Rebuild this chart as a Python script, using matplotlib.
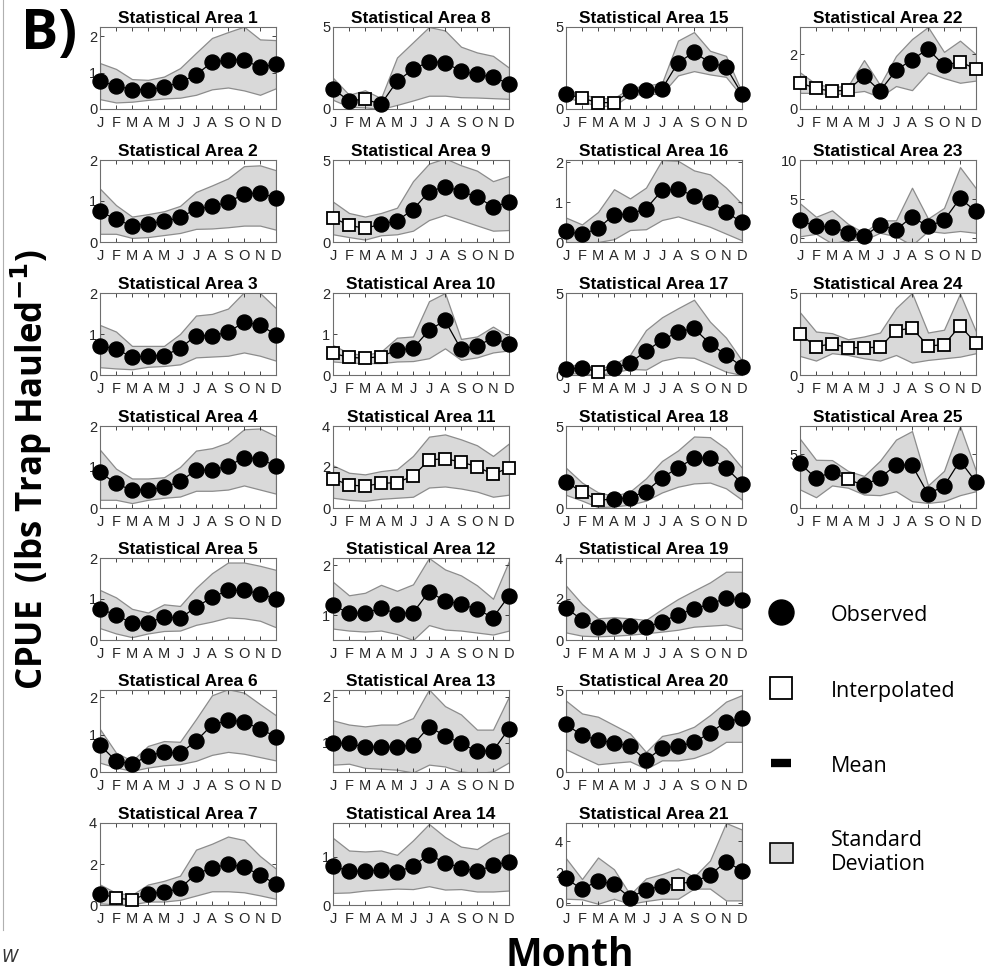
import numpy as np
import matplotlib
matplotlib.use("Agg")
import matplotlib.pyplot as plt
from matplotlib.lines import Line2D
from matplotlib.patches import Patch

months = ['J', 'F', 'M', 'A', 'M', 'J', 'J', 'A', 'S', 'O', 'N', 'D']

# mean CPUE, upper (mean+sd) and lower (mean-sd) per statistical area, Jan..Dec
m1 = [0.76, 0.64, 0.53, 0.53, 0.60, 0.73, 0.94, 1.28, 1.35, 1.35, 1.14, 1.23]
hi1 = [1.26, 1.10, 0.82, 0.80, 0.89, 1.12, 1.54, 1.95, 2.11, 2.26, 1.91, 1.89]
lo1 = [0.27, 0.18, 0.20, 0.25, 0.29, 0.31, 0.39, 0.54, 0.59, 0.51, 0.39, 0.57]

m2 = [0.75, 0.55, 0.40, 0.45, 0.50, 0.60, 0.80, 0.87, 0.97, 1.17, 1.20, 1.07]
hi2 = [1.30, 0.90, 0.62, 0.68, 0.75, 0.88, 1.22, 1.38, 1.55, 1.85, 1.87, 1.75]
lo2 = [0.20, 0.20, 0.10, 0.12, 0.17, 0.22, 0.32, 0.33, 0.36, 0.40, 0.40, 0.30]

m3 = [0.71, 0.64, 0.43, 0.47, 0.47, 0.65, 0.96, 0.96, 1.04, 1.29, 1.22, 0.98]
hi3 = [1.22, 1.06, 0.71, 0.71, 0.71, 1.00, 1.45, 1.49, 1.62, 2.02, 2.00, 1.63]
lo3 = [0.19, 0.16, 0.14, 0.20, 0.22, 0.26, 0.43, 0.45, 0.47, 0.55, 0.47, 0.35]

m4 = [0.87, 0.60, 0.43, 0.45, 0.50, 0.65, 0.92, 0.93, 1.02, 1.23, 1.20, 1.02]
hi4 = [1.42, 0.96, 0.72, 0.72, 0.75, 1.00, 1.40, 1.46, 1.60, 1.92, 1.94, 1.75]
lo4 = [0.20, 0.20, 0.12, 0.20, 0.25, 0.28, 0.42, 0.42, 0.45, 0.55, 0.45, 0.35]

m5 = [0.76, 0.61, 0.41, 0.41, 0.57, 0.53, 0.80, 1.04, 1.21, 1.21, 1.13, 1.00]
hi5 = [1.22, 1.04, 0.76, 0.67, 0.87, 0.83, 1.27, 1.63, 1.89, 1.89, 1.81, 1.71]
lo5 = [0.29, 0.16, 0.07, 0.16, 0.22, 0.23, 0.37, 0.45, 0.55, 0.53, 0.47, 0.31]

m6 = [0.72, 0.30, 0.21, 0.43, 0.54, 0.50, 0.83, 1.26, 1.39, 1.35, 1.15, 0.95]
hi6 = [1.15, 0.52, 0.30, 0.70, 0.83, 0.81, 1.42, 2.06, 2.22, 2.13, 1.82, 1.52]
lo6 = [0.25, 0.12, 0.03, 0.12, 0.18, 0.21, 0.30, 0.46, 0.54, 0.49, 0.40, 0.31]

m7 = [0.56, 0.34, 0.25, 0.56, 0.62, 0.81, 1.52, 1.80, 1.99, 1.85, 1.47, 1.01]
hi7 = [1.00, 0.59, 0.50, 1.00, 1.18, 1.43, 2.70, 2.99, 3.34, 3.17, 2.39, 1.77]
lo7 = [0.08, 0.03, 0.03, 0.17, 0.17, 0.25, 0.46, 0.67, 0.67, 0.62, 0.47, 0.30]

m8 = [1.22, 0.50, 0.60, 0.29, 1.69, 2.42, 2.89, 2.83, 2.31, 2.11, 1.94, 1.55]
hi8 = [1.90, 0.87, 1.14, 0.66, 3.14, 4.07, 5.00, 4.79, 3.80, 3.45, 3.24, 2.52]
lo8 = [0.56, 0.14, 0.10, 0.00, 0.25, 0.52, 0.81, 0.81, 0.72, 0.70, 0.66, 0.62]

m9 = [1.49, 1.01, 0.84, 1.08, 1.29, 1.98, 3.06, 3.38, 3.10, 2.74, 2.16, 2.41]
hi9 = [2.46, 1.77, 1.55, 1.77, 2.09, 3.71, 4.78, 5.10, 4.68, 4.35, 3.71, 4.03]
lo9 = [0.47, 0.30, 0.15, 0.41, 0.47, 0.69, 1.34, 1.66, 1.34, 1.01, 0.69, 0.73]

m10 = [0.53, 0.43, 0.41, 0.45, 0.61, 0.65, 1.09, 1.33, 0.63, 0.71, 0.90, 0.76]
hi10 = [0.73, 0.53, 0.49, 0.57, 0.91, 0.94, 1.80, 2.00, 0.88, 0.94, 1.18, 0.94]
lo10 = [0.33, 0.30, 0.29, 0.29, 0.33, 0.34, 0.41, 0.65, 0.37, 0.43, 0.55, 0.60]

m11 = [1.43, 1.12, 1.07, 1.20, 1.24, 1.56, 2.34, 2.41, 2.24, 2.02, 1.64, 1.97]
hi11 = [2.08, 1.72, 1.64, 1.80, 1.89, 2.54, 3.48, 3.59, 3.35, 3.06, 2.54, 3.15]
lo11 = [0.50, 0.40, 0.35, 0.45, 0.50, 0.55, 1.00, 1.05, 0.95, 0.80, 0.55, 0.65]

m12 = [1.20, 1.04, 1.04, 1.14, 1.03, 1.05, 1.47, 1.29, 1.22, 1.12, 0.95, 1.39]
hi12 = [1.67, 1.40, 1.45, 1.61, 1.49, 1.62, 2.15, 1.92, 1.80, 1.60, 1.33, 2.09]
lo12 = [0.73, 0.69, 0.67, 0.69, 0.62, 0.50, 0.80, 0.71, 0.69, 0.65, 0.61, 0.69]

m13 = [1.00, 0.99, 0.91, 0.91, 0.91, 0.96, 1.35, 1.16, 0.99, 0.82, 0.83, 1.31]
hi13 = [1.49, 1.40, 1.36, 1.40, 1.40, 1.54, 2.16, 1.80, 1.62, 1.29, 1.29, 2.01]
lo13 = [0.53, 0.55, 0.46, 0.44, 0.42, 0.36, 0.53, 0.49, 0.38, 0.35, 0.38, 0.58]

m14 = [0.81, 0.70, 0.70, 0.73, 0.68, 0.81, 1.04, 0.88, 0.77, 0.70, 0.82, 0.90]
hi14 = [1.39, 1.13, 1.11, 1.13, 1.04, 1.34, 1.68, 1.41, 1.21, 1.16, 1.37, 1.51]
lo14 = [0.25, 0.26, 0.30, 0.32, 0.34, 0.33, 0.39, 0.32, 0.33, 0.28, 0.28, 0.30]

m15 = [0.91, 0.66, 0.39, 0.39, 1.07, 1.14, 1.22, 2.83, 3.45, 2.83, 2.56, 0.91]
hi15 = [1.18, 0.91, 0.66, 0.66, 1.28, 1.43, 1.59, 4.17, 4.69, 3.55, 3.24, 1.01]
lo15 = [0.70, 0.45, 0.19, 0.19, 0.87, 0.91, 0.93, 2.05, 2.31, 2.11, 1.96, 0.76]

m16 = [0.27, 0.19, 0.34, 0.68, 0.70, 0.83, 1.29, 1.32, 1.15, 1.00, 0.75, 0.49]
hi16 = [0.61, 0.44, 0.75, 1.32, 1.09, 1.36, 2.05, 2.03, 1.79, 1.69, 1.36, 0.95]
lo16 = [-0.02, -0.02, 0.00, 0.07, 0.30, 0.32, 0.55, 0.64, 0.51, 0.38, 0.21, 0.04]

m17 = [0.37, 0.43, 0.20, 0.41, 0.74, 1.46, 2.12, 2.63, 2.84, 1.91, 1.23, 0.51]
hi17 = [0.58, 0.64, 0.37, 0.64, 1.23, 2.74, 3.52, 4.07, 4.59, 3.25, 2.28, 0.88]
lo17 = [0.10, 0.10, 0.00, 0.16, 0.37, 0.33, 0.88, 1.09, 1.05, 0.64, 0.20, 0.00]

m18 = [1.60, 0.96, 0.49, 0.53, 0.64, 1.00, 1.85, 2.45, 3.04, 3.04, 2.45, 1.49]
hi18 = [2.45, 1.55, 0.96, 0.74, 1.00, 1.81, 2.87, 3.51, 4.36, 4.32, 3.62, 2.45]
lo18 = [0.80, 0.45, 0.05, 0.10, 0.20, 0.45, 0.95, 1.30, 1.50, 1.55, 1.20, 0.50]

m19 = [1.56, 0.99, 0.62, 0.67, 0.67, 0.62, 0.89, 1.24, 1.51, 1.76, 2.03, 1.95]
hi19 = [2.65, 1.76, 1.06, 1.11, 1.06, 0.98, 1.51, 2.00, 2.41, 2.81, 3.33, 3.33]
lo19 = [0.37, 0.21, 0.18, 0.21, 0.26, 0.33, 0.41, 0.50, 0.65, 0.70, 0.75, 0.54]

m20 = [2.90, 2.24, 1.94, 1.78, 1.57, 0.71, 1.47, 1.57, 1.80, 2.39, 3.06, 3.27]
hi20 = [4.35, 3.57, 3.37, 2.86, 2.35, 1.22, 2.20, 2.39, 2.76, 3.47, 4.29, 4.69]
lo20 = [1.39, 0.92, 0.47, 0.57, 0.65, 0.20, 0.71, 0.71, 0.86, 1.22, 1.84, 1.84]

m21 = [1.58, 0.88, 1.43, 1.19, 0.33, 0.86, 1.08, 1.25, 1.36, 1.80, 2.68, 2.09]
hi21 = [2.90, 1.54, 2.95, 2.18, 0.53, 1.58, 1.87, 2.24, 1.69, 2.75, 5.20, 4.77]
lo21 = [0.26, 0.22, -0.07, 0.26, -0.07, 0.11, 0.26, 0.26, 0.92, 0.92, 0.15, 0.15]

m22 = [0.96, 0.75, 0.65, 0.69, 1.21, 0.66, 1.41, 1.81, 2.19, 1.60, 1.73, 1.46]
hi22 = [1.34, 0.91, 0.81, 0.84, 1.79, 0.88, 1.94, 2.56, 3.00, 2.09, 2.50, 2.00]
lo22 = [0.59, 0.59, 0.53, 0.59, 0.66, 0.44, 0.84, 0.69, 1.34, 1.13, 0.96, 1.04]

m23 = [2.27, 1.50, 1.45, 0.68, 0.23, 1.68, 1.05, 2.73, 1.50, 2.27, 5.09, 3.41]
hi23 = [4.45, 2.73, 3.55, 1.82, 0.68, 2.27, 2.27, 6.45, 2.50, 3.86, 9.09, 6.36]
lo23 = [0.23, 0.55, -0.68, -0.23, -0.23, 0.68, 0.23, -0.90, 0.91, 0.68, 0.91, 0.68]

m24 = [2.49, 1.73, 1.90, 1.67, 1.67, 1.69, 2.71, 2.86, 1.78, 1.84, 3.00, 1.94]
hi24 = [3.82, 2.65, 2.55, 2.18, 2.35, 2.59, 4.08, 5.00, 2.59, 2.76, 4.96, 2.65]
lo24 = [1.16, 0.88, 1.33, 1.22, 1.02, 0.88, 1.22, 0.76, 0.92, 1.02, 1.12, 1.33]

m25 = [4.13, 2.75, 3.34, 2.66, 2.09, 2.81, 3.97, 3.97, 1.31, 2.03, 4.38, 2.41]
hi25 = [6.41, 4.47, 4.44, 3.44, 2.97, 4.38, 6.34, 7.13, 2.09, 3.44, 7.60, 3.44]
lo25 = [1.72, 1.00, 2.09, 1.88, 1.25, 1.19, 1.56, 0.63, 0.47, 0.63, 1.19, 1.56]

# months (0-based) where the mean was interpolated
interp = {7: [1, 2], 8: [2], 9: [0, 1, 2], 10: [0, 1, 2, 3], 11: list(range(12)),
          15: [1, 2, 3], 17: [2], 18: [1, 2], 21: [7], 22: [0, 1, 2, 3, 10, 11],
          24: list(range(12)), 25: [3]}

# y limits and y ticks per area
ylims = {1: (0, 2.25), 2: (0, 2), 3: (0, 2), 4: (0, 2), 5: (0, 2), 6: (0, 2.2), 7: (0, 4),
         8: (0, 5), 9: (0, 5), 10: (0, 2), 11: (0, 4), 12: (0.5, 2.15), 13: (0.37, 2.15),
         14: (0, 1.7), 15: (0, 5), 16: (0, 2.05), 17: (0, 5), 18: (0, 5), 19: (0, 4),
         20: (0, 5), 21: (-0.15, 5.2), 22: (0, 3), 23: (-0.5, 10), 24: (0, 5), 25: (0, 7.6)}
yticks = {1: [0, 1, 2], 2: [0, 1, 2], 3: [0, 1, 2], 4: [0, 1, 2], 5: [0, 1, 2], 6: [0, 1, 2],
          7: [0, 2, 4], 8: [0, 5], 9: [0, 5], 10: [0, 1, 2], 11: [0, 2, 4], 12: [1, 2],
          13: [1, 2], 14: [0, 1], 15: [0, 5], 16: [0, 1, 2], 17: [0, 5], 18: [0, 5],
          19: [0, 2, 4], 20: [0, 5], 21: [0, 2, 4], 22: [0, 2], 23: [0, 5, 10],
          24: [0, 5], 25: [0, 5]}

areas = {i: (globals()['m%d' % i], globals()['hi%d' % i], globals()['lo%d' % i])
         for i in range(1, 26)}

W, H = 986, 980
fig = plt.figure(figsize=(W / 100, H / 100), dpi=100)

col_left = [100, 333, 566, 800]
row_top = [27, 160, 293, 426, 558, 690, 823]
ax_w, ax_h = 176, 82

tick_font = 'Liberation Sans'
x = np.arange(1, 13)

for a in range(1, 26):
    col, row = (a - 1) // 7, (a - 1) % 7
    l = col_left[col] / W
    b = 1 - (row_top[row] + ax_h) / H
    ax = fig.add_axes([l, b, ax_w / W, ax_h / H])
    mean, hi, lo = (np.array(v) for v in areas[a])
    ax.fill_between(x, lo, hi, facecolor='#d9d9d9', edgecolor='#8c8c8c', lw=0.9, zorder=1)
    ax.plot(x, mean, '-', color='k', lw=0.9, zorder=2)
    itp = interp.get(a, [])
    obs = [i for i in range(12) if i not in itp]
    ax.plot(x[obs], mean[obs], 'o', ms=10.8, mfc='k', mec='k', zorder=3, clip_on=False)
    if itp:
        ax.plot(x[itp], mean[itp], 's', ms=9.3, mfc='white', mec='k', mew=1.3,
                zorder=3, clip_on=False)
    ax.set_xlim(1, 12)
    ax.set_ylim(*ylims[a])
    ax.set_xticks(x)
    ax.set_xticklabels(months)
    ax.set_yticks(yticks[a])
    ax.set_yticklabels([str(t) for t in yticks[a]])
    ax.tick_params(direction='in', top=True, right=True, length=3, width=0.6,
                   labelsize=10.5, colors='#262626')
    ax.tick_params(axis='x', pad=5)
    ax.tick_params(axis='y', pad=2)
    for lab in ax.get_xticklabels() + ax.get_yticklabels():
        lab.set_fontfamily(tick_font)
    for s in ax.spines.values():
        s.set_color('#6e6e6e')
        s.set_linewidth(0.8)
    ax.set_title('Statistical Area %d' % a, fontsize=12.5, fontweight='bold',
                 family=tick_font, pad=3)

# legend
leg_ax = fig.add_axes([761 / W, 1 - 900 / H, 220 / W, 305 / H])
leg_ax.axis('off')
handles = [Line2D([], [], ls='none', marker='o', ms=18, mfc='k', mec='k'),
           Line2D([], [], ls='none', marker='s', ms=16, mfc='white', mec='k', mew=1.3),
           Line2D([], [], ls='none', marker='_', ms=15, mec='k', mew=6),
           Patch(facecolor='#d9d9d9', edgecolor='k', lw=1.2)]
labels = ['Observed', 'Interpolated', 'Mean', 'Standard\nDeviation']
leg_ax.legend(handles, labels, loc='upper left', frameon=False, handlelength=1.1,
              handleheight=1.1, handletextpad=1.75, labelspacing=2.45,
              prop={'family': 'Open Sans', 'size': 15.5}, borderaxespad=0)

fig.text(570 / W, 1 - 955 / H, 'Month', ha='center', va='center', fontsize=28,
         fontweight='bold', family='Open Sans')
fig.text(31 / W, 1 - 470 / H, r'CPUE  (lbs Trap Hauled$^{\mathbf{-1}}$)', ha='center',
         va='center', rotation=90, fontsize=25, fontweight='bold', family='Open Sans')
fig.text(49 / W, 1 - 35 / H, 'B)', ha='center', va='center', fontsize=40,
         fontweight='bold', family='Open Sans')
fig.add_artist(Line2D([3 / W, 3 / W], [1 - 930 / H, 1], color='#b0b0b0', lw=0.8))
fig.text(1 / W, 1 - 957 / H, 'W', ha='left', va='center', fontsize=12,
         color='#333333', family='DejaVu Sans', style='italic')

fig.savefig('out.png', dpi=100)
